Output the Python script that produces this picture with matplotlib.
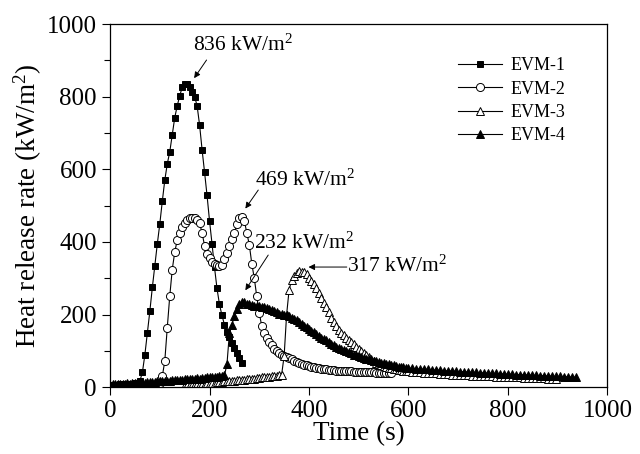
import numpy as np
import matplotlib
matplotlib.use("Agg")
import matplotlib.pyplot as plt

plt.rcParams["font.family"] = ["Liberation Serif", "DejaVu Serif"]
plt.rcParams["mathtext.fontset"] = "custom"
plt.rcParams["mathtext.rm"] = "Liberation Serif"
plt.rcParams["mathtext.it"] = "Liberation Serif:italic"

# heat release rate readings (kW/m2), sampled every 5 s from the start time
EVM1_START = 0
evm1 = [6, 5, 7, 6, 8, 7, 9, 8, 10, 9, 11, 12, 18,
        41, 90, 150, 210, 275, 335, 395, 450, 512, 570, 615, 648, 695, 742,
        775, 802, 826, 836, 835, 826, 814, 800, 775, 722, 654, 592, 528,
        458, 395, 330, 272, 228, 198, 172, 152, 138, 122, 107, 93, 80, 68]

EVM2_START = 100
evm2 = [12, 30, 72, 164, 251, 324, 372, 405, 425, 440, 452, 460, 466, 466,
        465, 460, 452, 425, 390, 368, 355, 346, 340, 336, 333, 338, 352,
        370, 388, 407, 425, 450, 466, 469, 458, 425, 392, 340, 300, 250,
        205, 168, 150, 135, 124, 115, 106, 100, 93, 88, 85, 82, 80, 77, 73,
        69, 66, 63, 61, 60, 59, 57, 55, 54, 52, 51, 50, 49, 48, 47, 47, 46,
        46, 45, 45, 45, 44, 44, 43, 43, 43, 42, 42, 42, 41, 41, 41, 40, 40,
        40, 39, 39, 39, 38]

# EVM-3 and EVM-4: 5 s steps up to 600 s, then the tail every 8 s
EVM3_START = 150
evm3 = [5, 6, 6, 7, 8, 8, 9, 10, 10, 11, 12, 12, 13, 14, 14, 15, 16, 16,
        17, 18, 18, 19, 20, 21, 21, 22, 23, 24, 24, 25, 26, 27, 28, 28, 29,
        30, 31, 32, 33, 35,
        86, 200, 268, 295, 305, 314, 320, 317, 318, 312, 302, 292, 283, 272,
        260, 246, 233, 220, 206, 192, 180, 168, 158, 150, 143, 137, 130, 124,
        118, 111, 105, 100, 94, 88, 82, 77, 72, 68, 65, 62, 59, 56, 54, 52,
        50, 49, 48, 47, 46, 45]
evm3_tail = [44, 43, 42, 41, 40, 40, 39, 38, 37, 37, 36, 35, 35, 34, 33, 33,
             32, 32, 31, 31, 30, 30, 29, 29, 28, 28, 28, 27, 27, 26, 26, 26,
             25, 25, 25, 24, 24, 24]

EVM4_START = 0
evm4 = [7, 8, 8, 9, 9, 10, 10, 11, 10, 11, 12, 12, 13, 12, 13, 14, 14, 15,
        15, 16, 16, 17, 17, 18, 18, 19, 19, 20, 21, 20, 22, 22, 23, 23, 24,
        25, 24, 26, 26, 27, 27, 28, 28, 29, 30, 31, 33,
        63, 150, 172, 196, 215, 228, 236, 234, 230, 228, 226, 225, 224, 223,
        222, 220, 218, 215, 213, 210, 207, 203, 201, 200, 198, 196, 192, 188,
        184, 179, 174, 169, 165, 160, 156, 151, 146, 141, 137, 133, 129, 124,
        120, 116, 112, 108, 105, 102, 99, 96, 93, 90, 88, 86, 84, 81, 79, 77,
        75, 73, 71, 70, 68, 66, 64, 63, 61, 60, 58, 57, 56, 55, 54]
evm4_tail = [53, 52, 51, 50, 50, 49, 48, 47, 47, 46, 45, 45, 44, 43, 43, 42,
             41, 41, 40, 40, 39, 38, 38, 37, 37, 36, 36, 35, 35, 34, 34, 33,
             33, 32, 32, 31, 31, 30, 30, 29, 29, 28, 28]

LABELS = ["EVM-1", "EVM-2", "EVM-3", "EVM-4"]

# peak labels: (text, text pos, arrow start, arrow tip) in data units
PEAKS = [
    ("836 kW/m$^2$", (268, 942), (194, 901), (169, 851)),
    ("469 kW/m$^2$", (392, 570), (298, 543), (272, 492)),
    ("232 kW/m$^2$", (390, 397), (318, 364), (272, 267)),
    ("317 kW/m$^2$", (578, 333), (476, 331), (399, 331)),
]


def times(start, n, tail_n=0):
    t = start + 5 * np.arange(n)
    if tail_n:
        t = np.concatenate([t, 600 + 8 * np.arange(tail_n)])
    return t


fig = plt.figure(figsize=(6.4, 4.54), dpi=100)
ax = fig.add_axes([0.172, 0.147, 0.777, 0.8])

style = dict(color="black", lw=0.8, mew=0.7)
ax.plot(times(EVM1_START, len(evm1)), evm1, marker="s", ms=4.6,
        mfc="black", label=LABELS[0], **style)
ax.plot(times(EVM2_START, len(evm2)), evm2, marker="o", ms=5.8,
        mfc="white", label=LABELS[1], **style)
ax.plot(times(EVM3_START, len(evm3), len(evm3_tail)), evm3 + evm3_tail,
        marker="^", ms=5.8, mfc="white", label=LABELS[2], **style)
ax.plot(times(EVM4_START, len(evm4), len(evm4_tail)), evm4 + evm4_tail,
        marker="^", ms=5.8, mfc="black", label=LABELS[3], **style)

for text, pos, start, tip in PEAKS:
    ax.text(pos[0], pos[1], text, fontsize=15.5, ha="center", va="center")
    ax.annotate("", xy=tip, xytext=start,
                arrowprops=dict(arrowstyle="-|>", color="black", lw=0.7,
                                mutation_scale=9, shrinkA=0, shrinkB=0))

ax.set_xlim(0, 1000)
ax.set_ylim(0, 1000)
ax.set_xticks(np.arange(0, 1001, 200))
ax.set_yticks(np.arange(0, 1001, 200))
ax.set_yticks(np.arange(100, 1000, 200), minor=True)
ax.tick_params(axis="both", which="major", direction="out", length=6,
               width=0.8, labelsize=18)
ax.tick_params(axis="y", which="minor", direction="out", length=4, width=0.8)
ax.set_xlabel("Time (s)", fontsize=19.5, labelpad=-1)
ax.set_ylabel("Heat release rate (kW/m$^2$)", fontsize=19.5, labelpad=2)
for s in ax.spines.values():
    s.set_linewidth(0.9)

ax.legend(loc="upper left", bbox_to_anchor=(0.70, 0.908), frameon=False,
          fontsize=13, handlelength=2.4, handletextpad=0.5,
          labelspacing=0.35, borderpad=0, borderaxespad=0)

fig.savefig("out.png", dpi=100)
